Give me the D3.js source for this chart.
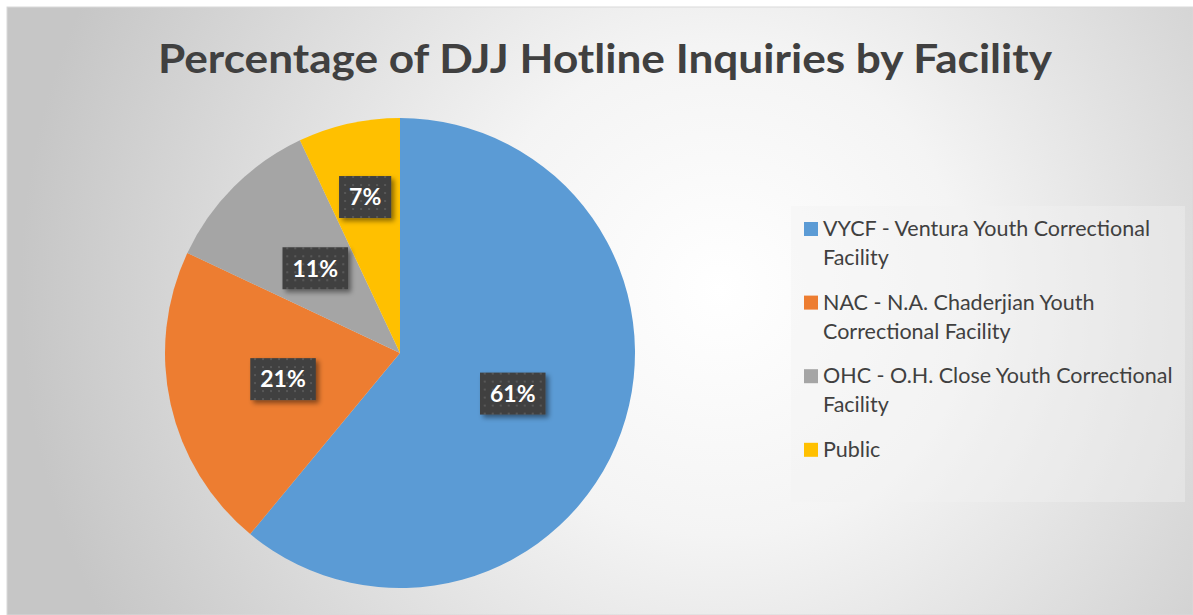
<!DOCTYPE html>
<html lang="en">
<head>
  <meta charset="UTF-8">
  <title>Percentage of DJJ Hotline Inquiries by Facility</title>
  <script src="https://d3js.org/d3.v7.min.js"></script>
  <style>
    body { margin: 0; background: #fff; }
    svg { display: block; }
  </style>
</head>
<body>
<script>
  const categories = [
    'VYCF - Ventura Youth Correctional Facility',
    'NAC - N.A. Chaderjian Youth Correctional Facility',
    'OHC - O.H. Close Youth Correctional Facility',
    'Public'
  ];
  const values = [61, 21, 11, 7];
  const palette = ['#5B9BD5', '#ED7D31', '#A5A5A5', '#FFC000'];
  const title = 'Percentage of DJJ Hotline Inquiries by Facility';

  const width = 1193;
  const height = 615;
  const cx = 400, cy = 353, radius = 235;

  const svg = d3.select('body').append('svg')
    .attr('width', width)
    .attr('height', height);

  const defs = svg.append('defs');

  const bg = defs.append('radialGradient')
    .attr('id', 'bg')
    .attr('gradientUnits', 'userSpaceOnUse')
    .attr('cx', 720).attr('cy', 290).attr('r', 700);
  bg.append('stop').attr('offset', '0%').attr('stop-color', '#ffffff');
  bg.append('stop').attr('offset', '35%').attr('stop-color', '#f4f4f4');
  bg.append('stop').attr('offset', '100%').attr('stop-color', '#c6c6c6');

  const dots = defs.append('pattern')
    .attr('id', 'dots')
    .attr('patternUnits', 'userSpaceOnUse')
    .attr('width', 8).attr('height', 8);
  dots.append('rect').attr('width', 8).attr('height', 8).attr('fill', '#404040');
  dots.append('rect').attr('x', 3).attr('y', 3).attr('width', 2).attr('height', 2).attr('fill', '#585858');

  const shadow = defs.append('filter')
    .attr('id', 'shadow')
    .attr('x', '-20%').attr('y', '-20%')
    .attr('width', '150%').attr('height', '160%');
  shadow.append('feDropShadow')
    .attr('dx', 3).attr('dy', 3)
    .attr('stdDeviation', 2.5)
    .attr('flood-color', '#000')
    .attr('flood-opacity', 0.45);

  // chart area
  svg.append('rect')
    .attr('x', 7).attr('y', 7)
    .attr('width', width - 7).attr('height', height - 7)
    .attr('fill', 'url(#bg)')
    .attr('stroke', '#d9d9d9')
    .attr('stroke-width', 1);

  // title, stretched to the reference width
  svg.append('text')
    .attr('x', 605).attr('y', 73)
    .attr('text-anchor', 'middle')
    .attr('textLength', 894)
    .attr('lengthAdjust', 'spacingAndGlyphs')
    .style('font-family', 'Lato, "Open Sans", sans-serif')
    .style('font-weight', 'bold')
    .style('font-size', '41px')
    .style('fill', '#404040')
    .text(title);

  const color = d3.scaleOrdinal().domain(categories).range(palette);

  const pie = d3.pie().sort(null).value(d => d.value);
  const arcs = pie(categories.map((c, i) => ({ name: c, value: values[i] })));
  const total = d3.sum(values);

  const arc = d3.arc().innerRadius(0).outerRadius(radius);

  const g = svg.append('g').attr('transform', `translate(${cx},${cy})`);

  g.selectAll('path.slice')
    .data(arcs)
    .join('path')
    .attr('class', 'slice')
    .attr('fill', d => color(d.data.name))
    .attr('d', arc);

  // data labels
  const labelArc = d => {
    const share = d.data.value / total;
    const r = share < 0.1 ? radius * 0.68 : radius * 0.51;
    return d3.arc().innerRadius(r).outerRadius(r).centroid(d);
  };

  const labels = g.selectAll('g.label')
    .data(arcs)
    .join('g')
    .attr('class', 'label')
    .attr('transform', d => `translate(${labelArc(d)})`);

  labels.each(function (d) {
    const lg = d3.select(this);
    const box = lg.append('rect').attr('fill', 'url(#dots)').attr('filter', 'url(#shadow)');
    const t = lg.append('text')
      .attr('text-anchor', 'middle')
      .attr('dy', '0.36em')
      .style('font-family', 'Lato, "Open Sans", sans-serif')
      .style('font-weight', 'bold')
      .style('font-size', '23px')
      .style('fill', '#ffffff')
      .text(Math.round(d.data.value / total * 100) + '%');
    const w = t.node().getComputedTextLength() + 20;
    const h = 42;
    box.attr('x', -w / 2).attr('y', -h / 2).attr('width', w).attr('height', h);
  });

  // legend
  const legendX = 791, legendY = 206;
  svg.append('rect')
    .attr('x', legendX).attr('y', legendY)
    .attr('width', 394).attr('height', 296)
    .attr('fill', '#f2f2f2')
    .attr('fill-opacity', 0.39);

  const legend = svg.append('g');
  const lineH = 29, entryGap = 15.6, maxW = 360;
  let baseline = 236;

  categories.forEach((name, i) => {
    const item = legend.append('g');
    item.append('rect')
      .attr('x', 804).attr('y', baseline - 14)
      .attr('width', 14).attr('height', 14)
      .attr('fill', color(name));

    const txt = item.append('text')
      .attr('x', 823).attr('y', baseline)
      .style('font-family', 'Lato, "Open Sans", sans-serif')
      .style('font-size', '21.5px')
      .style('fill', '#404040');

    // word wrap
    const words = name.split(' ');
    let line = [];
    let tspan = txt.append('tspan').attr('x', 823).attr('y', baseline);
    let lines = 1;
    words.forEach(word => {
      line.push(word);
      tspan.text(line.join(' '));
      if (tspan.node().getComputedTextLength() > maxW && line.length > 1) {
        line.pop();
        tspan.text(line.join(' '));
        line = [word];
        tspan = txt.append('tspan')
          .attr('x', 823)
          .attr('y', baseline + lines * lineH)
          .text(word);
        lines++;
      }
    });
    baseline += lines * lineH + entryGap;
  });
</script>
</body>
</html>
